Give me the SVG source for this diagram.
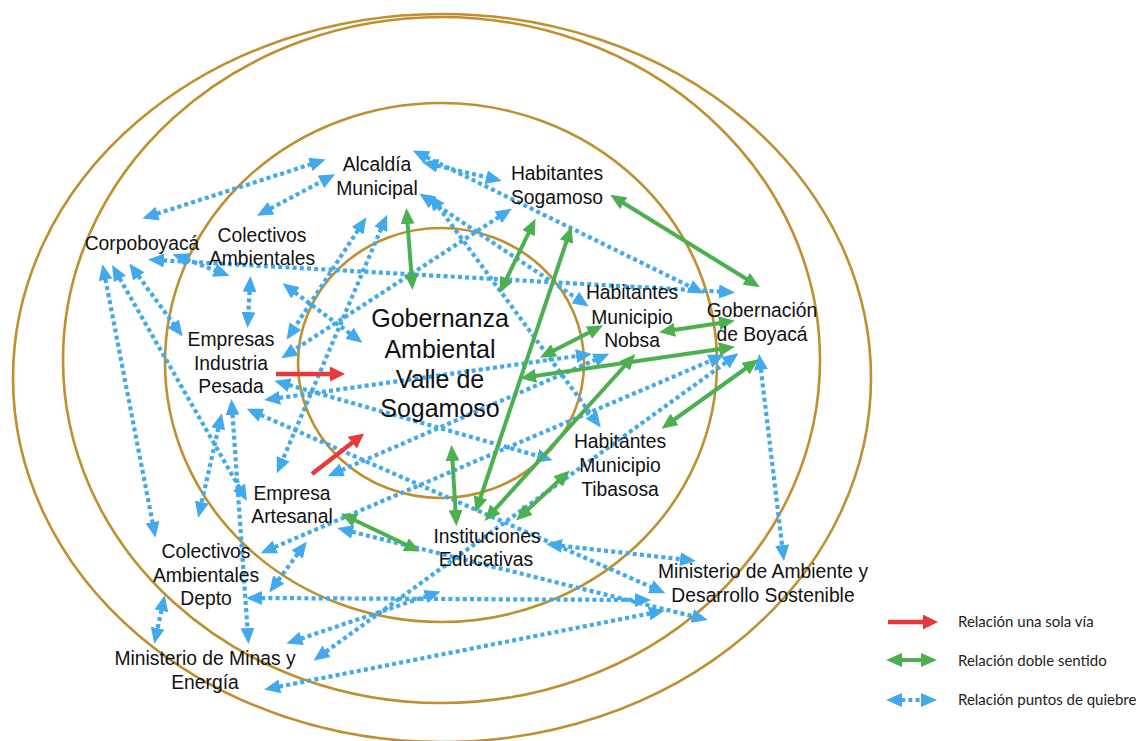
<svg xmlns="http://www.w3.org/2000/svg" width="1146" height="741" viewBox="0 0 1146 741">
<defs>
<style>
.ring{fill:none;stroke:#BF8F30;stroke-width:2.6}
.b{fill:none;stroke:#41A9EC;stroke-width:4.2;stroke-dasharray:4 3.2;marker-start:url(#hb);marker-end:url(#hb)}
.g{fill:none;stroke:#4CAF50;stroke-width:4;marker-start:url(#hg);marker-end:url(#hg)}
.r{fill:none;stroke:#E8383A;stroke-width:4.5;marker-end:url(#hr)}
.n{font-family:"Liberation Sans",Arial,Helvetica,sans-serif;font-size:19.3px;text-anchor:middle;fill:#111}
.t{font-family:"Liberation Sans",Arial,Helvetica,sans-serif;font-size:25px;text-anchor:middle;fill:#111}
.l{font-family:Lato,"Open Sans",sans-serif;font-size:15px;fill:#222}
</style>
<marker id="hb" markerUnits="userSpaceOnUse" viewBox="0 0 16 14" markerWidth="16" markerHeight="14" refX="8" refY="7" orient="auto-start-reverse"><path d="M0,0 L16,7 L0,14 z" fill="#41A9EC"/></marker>
<marker id="hg" markerUnits="userSpaceOnUse" viewBox="0 0 16 14" markerWidth="16" markerHeight="14" refX="8" refY="7" orient="auto-start-reverse"><path d="M0,0 L16,7 L0,14 z" fill="#4CAF50"/></marker>
<marker id="hr" markerUnits="userSpaceOnUse" viewBox="0 0 15 15" markerWidth="15" markerHeight="15" refX="6" refY="7.5" orient="auto"><path d="M0,0 L15,7.5 L0,15 z" fill="#E8383A"/></marker>
</defs>
<rect width="1146" height="741" fill="#fff"/>
<g id="rings">
<ellipse class="ring" cx="442" cy="378" rx="429" ry="364"/>
<ellipse class="ring" cx="441.5" cy="360" rx="378.5" ry="343"/>
<ellipse class="ring" cx="441" cy="362.5" rx="276" ry="259.5"/>
<ellipse class="ring" cx="441" cy="363" rx="143" ry="135"/>
</g>
<g id="connectors">
<line class="b" x1="150" y1="216" x2="318" y2="162"/>
<line class="b" x1="264" y1="212" x2="328" y2="178"/>
<line class="b" x1="156" y1="260" x2="727" y2="292"/>
<line class="b" x1="180" y1="257" x2="222" y2="273"/>
<line class="b" x1="134" y1="270" x2="178" y2="330"/>
<line class="b" x1="104" y1="272" x2="154" y2="530"/>
<line class="b" x1="116" y1="272" x2="243" y2="494"/>
<line class="b" x1="250" y1="284" x2="248" y2="320"/>
<line class="b" x1="289" y1="288" x2="356" y2="338"/>
<line class="b" x1="362" y1="224" x2="291" y2="333"/>
<line class="b" x1="384" y1="222" x2="280" y2="466"/>
<line class="b" x1="505" y1="213" x2="288" y2="354"/>
<line class="b" x1="430" y1="164" x2="494" y2="179"/>
<line class="b" x1="420" y1="154" x2="697" y2="290"/>
<line class="b" x1="426" y1="198" x2="582" y2="302"/>
<line class="b" x1="434" y1="201" x2="596" y2="421"/>
<line class="b" x1="272" y1="399" x2="584" y2="355"/>
<line class="b" x1="282" y1="383" x2="545" y2="458"/>
<line class="b" x1="254" y1="412" x2="658" y2="590"/>
<line class="b" x1="335" y1="473" x2="602" y2="357"/>
<line class="b" x1="268" y1="550" x2="717" y2="358"/>
<line class="b" x1="320" y1="656" x2="732" y2="358"/>
<line class="b" x1="274" y1="586" x2="302" y2="548"/>
<line class="b" x1="220" y1="421" x2="200" y2="510"/>
<line class="b" x1="232" y1="407" x2="248" y2="636"/>
<line class="b" x1="254" y1="598" x2="643" y2="600"/>
<line class="b" x1="345" y1="530" x2="700" y2="618"/>
<line class="b" x1="554" y1="545" x2="688" y2="560"/>
<line class="b" x1="272" y1="688" x2="657" y2="612"/>
<line class="b" x1="294" y1="641" x2="433" y2="594"/>
<line class="b" x1="163" y1="603" x2="156" y2="636"/>
<line class="b" x1="760" y1="362" x2="783" y2="553"/>
<line class="g" x1="407" y1="216" x2="412" y2="282"/>
<line class="g" x1="532" y1="226" x2="503" y2="286"/>
<line class="g" x1="569" y1="234" x2="478" y2="505"/>
<line class="g" x1="617" y1="199" x2="753" y2="283"/>
<line class="g" x1="667" y1="331" x2="727" y2="322"/>
<line class="g" x1="528" y1="377" x2="727" y2="348"/>
<line class="g" x1="596" y1="329" x2="547" y2="354"/>
<line class="g" x1="630" y1="360" x2="490" y2="515"/>
<line class="g" x1="752" y1="364" x2="668" y2="424"/>
<line class="g" x1="564" y1="476" x2="522" y2="515"/>
<line class="g" x1="452" y1="453" x2="456" y2="518"/>
<line class="g" x1="348" y1="517" x2="413" y2="548"/>
<line class="r" x1="276" y1="374" x2="336" y2="374"/>
<line class="r" x1="312" y1="474" x2="357" y2="439"/>
</g>
<g id="node-gobernanza"><text class="t" x="440" y="327">Gobernanza</text><text class="t" x="440" y="358">Ambiental</text><text class="t" x="440" y="388">Valle de</text><text class="t" x="440" y="417">Sogamoso</text></g>
<g id="node-alcaldia"><text class="n" x="377" y="171">Alcaldía</text><text class="n" x="377" y="195">Municipal</text></g>
<g id="node-hab-sogamoso"><text class="n" x="557" y="180">Habitantes</text><text class="n" x="557" y="204">Sogamoso</text></g>
<g id="node-colectivos-amb"><text class="n" x="262" y="242">Colectivos</text><text class="n" x="262" y="265">Ambientales</text></g>
<g id="node-corpoboyaca"><text class="n" x="142" y="250">Corpoboyacá</text></g>
<g id="node-empresas-pesada"><text class="n" x="231" y="346">Empresas</text><text class="n" x="231" y="370">Industria</text><text class="n" x="231" y="393">Pesada</text></g>
<g id="node-hab-nobsa"><text class="n" x="632" y="299">Habitantes</text><text class="n" x="632" y="324">Municipio</text><text class="n" x="632" y="347">Nobsa</text></g>
<g id="node-gobernacion"><text class="n" x="762" y="317">Gobernación</text><text class="n" x="762" y="341">de Boyacá</text></g>
<g id="node-hab-tibasosa"><text class="n" x="620" y="448">Habitantes</text><text class="n" x="620" y="472">Municipio</text><text class="n" x="620" y="496">Tibasosa</text></g>
<g id="node-empresa-artesanal"><text class="n" x="292" y="500">Empresa</text><text class="n" x="292" y="523">Artesanal</text></g>
<g id="node-instituciones"><text class="n" x="487" y="543">Instituciones</text><text class="n" x="486" y="566">Educativas</text></g>
<g id="node-colectivos-depto"><text class="n" x="206" y="558">Colectivos</text><text class="n" x="206" y="582">Ambientales</text><text class="n" x="206" y="605">Depto</text></g>
<g id="node-min-ambiente"><text class="n" x="763" y="578">Ministerio de Ambiente y</text><text class="n" x="763" y="602">Desarrollo Sostenible</text></g>
<g id="node-min-minas"><text class="n" x="205" y="665">Ministerio de Minas y</text><text class="n" x="205" y="689">Energía</text></g>
<g id="legend">
<line class="r" x1="888" y1="622" x2="929" y2="622"/>
<text class="l" x="958" y="627">Relación una sola vía</text>
<line class="g" x1="894" y1="660" x2="929" y2="660"/>
<text class="l" x="958" y="666">Relación doble sentido</text>
<line class="b" x1="894" y1="700" x2="929" y2="700"/>
<text class="l" x="958" y="705">Relación puntos de quiebre</text>
</g>
</svg>
